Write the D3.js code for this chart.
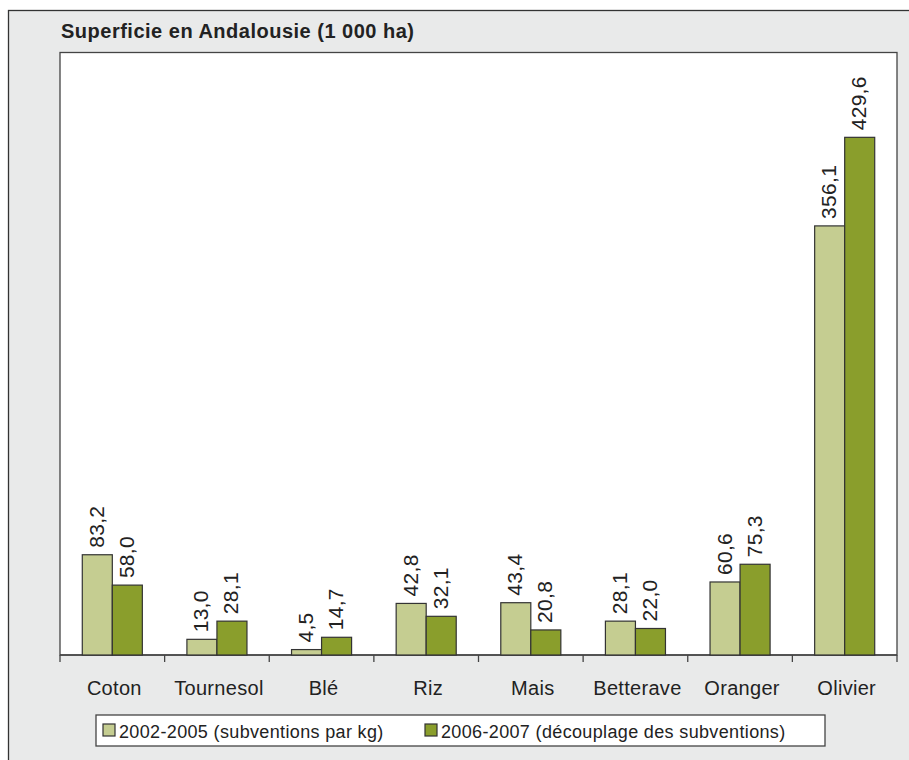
<!DOCTYPE html>
<html><head><meta charset="utf-8">
<script src="https://cdn.jsdelivr.net/npm/d3@7"></script>
<style>body{margin:0;background:#fff;}svg{display:block;font-family:"Liberation Sans",Arial,Helvetica,sans-serif;}</style>
</head><body>
<script>
const categories = ["Coton","Tournesol","Blé","Riz","Mais","Betterave","Oranger","Olivier"];
const seriesNames = ["2002-2005 (subventions par kg)","2006-2007 (découplage des subventions)"];
const values2002 = [83.2,13.0,4.5,42.8,43.4,28.1,60.6,356.1];
const values2006 = [58.0,28.1,14.7,32.1,20.8,22.0,75.3,429.6];
const colors = ["#c5cd91","#8a9e2c"];
const title = "Superficie en Andalousie (1 000 ha)";

const W = 909, H = 760;
const svg = d3.select("body").append("svg").attr("width", W).attr("height", H);

// frame
svg.append("rect").attr("x", 8.5).attr("y", 10.5).attr("width", 920).attr("height", 780)
  .attr("fill", "#e9eaea").attr("stroke", "#333").attr("stroke-width", 1.3);

const pLeft = 60, pRight = 897, pTop = 52.5, pBottom = 655;
svg.append("rect").attr("x", pLeft).attr("y", pTop).attr("width", pRight - pLeft).attr("height", pBottom - pTop)
  .attr("fill", "#fff").attr("stroke", "#444").attr("stroke-width", 1.3);

svg.append("text").attr("x", 61).attr("y", 38).attr("font-weight", "bold").attr("font-size", 20)
  .attr("letter-spacing", 0.5).attr("fill", "#222").text(title);

const x = d3.scaleBand().domain(categories).range([pLeft, pRight]).padding(0);
const y = d3.scaleLinear().domain([0, 500]).range([pBottom, pTop]);
const bw = x.bandwidth() * 0.287;

const xAxis = d3.axisBottom(x).tickSize(7).tickSizeOuter(7).tickFormat("");
const gx = svg.append("g").attr("transform", `translate(0,${pBottom})`).call(xAxis);
gx.selectAll(".tick line").remove();
gx.select(".domain").remove();
const bounds = categories.map(c => x(c)).concat([pRight]);
gx.selectAll("line.b").data(bounds).join("line").attr("class","b")
  .attr("x1", d => d).attr("x2", d => d).attr("y1", 0).attr("y2", 7)
  .attr("stroke", "#444").attr("stroke-width", 1.3);
gx.append("line").attr("x1", pLeft).attr("x2", pRight).attr("y1", 0).attr("y2", 0)
  .attr("stroke", "#444").attr("stroke-width", 1.3);

svg.append("g").selectAll("text").data(categories).join("text")
  .attr("x", d => x(d) + x.bandwidth()/2 + 2).attr("y", 695)
  .attr("text-anchor", "middle").attr("font-size", 20).attr("letter-spacing", 0.3)
  .attr("fill", "#222").text(d => d);

const series = [values2002, values2006];
series.forEach((vals, si) => {
  const g = svg.append("g");
  const cx = (c) => x(c) + x.bandwidth()/2 - bw + si * bw;
  g.selectAll("rect").data(categories).join("rect")
    .attr("x", c => cx(c)).attr("width", bw)
    .attr("y", (c, i) => y(vals[i])).attr("height", (c, i) => pBottom - y(vals[i]))
    .attr("fill", colors[si]).attr("stroke", "#333").attr("stroke-width", 1.2);
  g.selectAll("text").data(categories).join("text")
    .attr("transform", (c, i) => `translate(${cx(c) + bw/2 + 6.5},${y(vals[i]) - 7}) rotate(-90)`)
    .attr("font-size", 21).attr("letter-spacing", 0.3).attr("fill", "#222")
    .text((c, i) => d3.format(".1f")(vals[i]).replace(".", ","));
});

// legend
const lg = svg.append("g");
lg.append("rect").attr("x", 96).attr("y", 715).attr("width", 729).attr("height", 31)
  .attr("fill", "#fff").attr("stroke", "#444").attr("stroke-width", 1.3);
const legX = [103, 425];
seriesNames.forEach((n, i) => {
  lg.append("rect").attr("x", legX[i]).attr("y", 724).attr("width", 12).attr("height", 12)
    .attr("fill", colors[i]).attr("stroke", "#333").attr("stroke-width", 1.2);
  lg.append("text").attr("x", legX[i] + 16).attr("y", 737.5).attr("font-size", 18)
    .attr("letter-spacing", 0.35).attr("fill", "#222").text(n);
});
</script>
</body></html>
